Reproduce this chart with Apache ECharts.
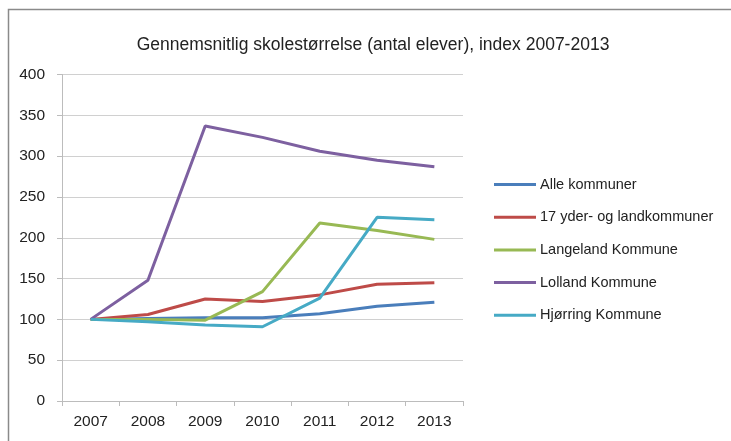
<!DOCTYPE html>
<html>
<head>
<meta charset="utf-8">
<script src="https://cdn.jsdelivr.net/npm/echarts@6/dist/echarts.min.js"></script>
<style>
  html, body { margin: 0; padding: 0; background: #fff; }
  #chart { width: 731px; height: 441px; }
</style>
</head>
<body>
<div id="chart"></div>
<script>
// years on the x axis
const years = ['2007', '2008', '2009', '2010', '2011', '2012', '2013'];

// index values (2007 = 100)
const alleKommuner = [100, 101, 102, 102, 107, 116, 121];
const yderLand = [100, 106, 125, 122, 130, 143, 145];
const langeland = [100, 100, 99, 134, 218, 209, 198];
const lolland = [100, 148, 337, 323, 306, 295, 287];
const hjoerring = [100, 97, 93, 91, 126, 225, 222];

const seriesNames = [
    'Alle kommuner',
    '17 yder- og landkommuner',
    'Langeland Kommune',
    'Lolland Kommune',
    'Hjørring Kommune'
];
const colors = ['#4a7ebb', '#be4b48', '#98b954', '#7d60a0', '#46aac5'];

const FONT = '"Liberation Sans", Arial, sans-serif';

const chart = echarts.init(document.getElementById('chart'));

const lineSeries = [alleKommuner, yderLand, langeland, lolland, hjoerring].map((vals, i) => ({
    name: seriesNames[i],
    type: 'line',
    data: vals,
    showSymbol: false,
    symbol: 'none',
    lineStyle: { width: 3, color: colors[i] },
    itemStyle: { color: colors[i] },
    animation: false
}));

const option = {
    animation: false,
    backgroundColor: '#fff',
    title: {
        text: 'Gennemsnitlig skolestørrelse (antal elever), index 2007-2013',
        left: 368,
        top: 31,
        textAlign: 'center',
        textStyle: {
            fontFamily: FONT,
            fontSize: 17.5,
            fontWeight: 'normal',
            color: '#222'
        }
    },
    graphic: [
        {
            type: 'polyline',
            shape: { points: [[8.5, 441], [8.5, 9.5], [731, 9.5]] },
            style: { stroke: '#8a8a8a', lineWidth: 1.5, fill: null },
            silent: true
        }
    ],
    legend: {
        orient: 'vertical',
        left: 489,
        top: 172,
        itemWidth: 42,
        itemHeight: 3,
        itemGap: 17.7,
        icon: 'rect',
        data: seriesNames,
        textStyle: {
            fontFamily: FONT,
            fontSize: 14.5,
            color: '#222',
            padding: [0, 0, 0, -1]
        }
    },
    grid: {
        left: 62,
        right: 268,
        top: 74.5,
        bottom: 40,
        containLabel: false
    },
    xAxis: {
        type: 'category',
        data: years,
        boundaryGap: true,
        axisLine: { show: true, lineStyle: { color: '#bcbcbc', width: 1 } },
        axisTick: { show: true, length: 5, lineStyle: { color: '#bcbcbc' } },
        axisLabel: {
            margin: 13,
            fontFamily: FONT,
            fontSize: 15.5,
            color: '#222'
        },
        splitLine: { show: false }
    },
    yAxis: {
        type: 'value',
        min: 0,
        max: 400,
        interval: 50,
        axisLine: { show: true, lineStyle: { color: '#bcbcbc', width: 1 } },
        axisTick: { show: true, length: 5, lineStyle: { color: '#bcbcbc' } },
        axisLabel: {
            margin: 17,
            fontFamily: FONT,
            fontSize: 15.5,
            color: '#222'
        },
        splitLine: { show: true, lineStyle: { color: '#d0d0d0', width: 1 } }
    },
    series: lineSeries
};

chart.setOption(option);
</script>
</body>
</html>
